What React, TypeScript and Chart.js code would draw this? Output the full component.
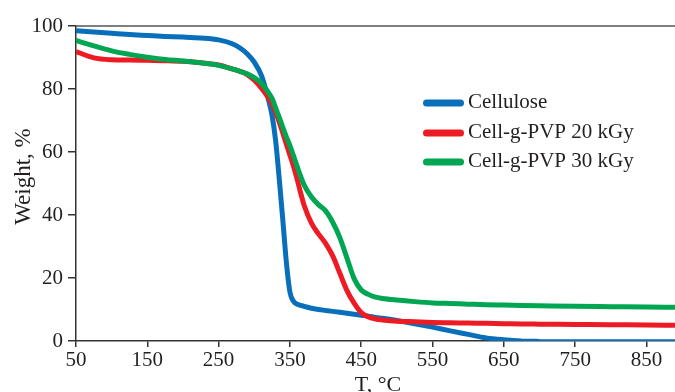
import React, { useEffect, useRef } from "react";
import { Chart, registerables } from "chart.js";

Chart.register(...registerables);

// Temperature (°C) sample points shared by all curves
const temperatures = [
  50, 75, 100, 125, 150, 175, 200, 225, 250, 270, 280, 290, 300, 310, 320, 325,
  330, 335, 340, 345, 350, 355, 360, 365, 370, 380, 390, 400, 410, 420, 430, 440,
  450, 460, 470, 480, 500, 525, 550, 575, 600, 625, 650, 675, 700, 750, 800, 850, 890,
];

// Weight (%) per series
const cellulose = [
  98.5, 98.1, 97.7, 97.3, 97.0, 96.7, 96.5, 96.2, 95.6, 94.3, 93.0, 91.2, 88.5, 84.3, 76.5, 71.5,
  63.5, 51.5, 38.5, 25.0, 15.5, 12.6, 11.7, 11.3, 11.0, 10.4, 10.0, 9.7, 9.4, 9.1, 8.8, 8.5,
  8.2, 7.9, 7.5, 7.2, 6.5, 5.5, 4.4, 3.2, 2.1, 1.0, 0.4, 0.0, -0.15, -0.2, -0.2, -0.2, -0.2,
];
const pvp20 = [
  91.9, 89.9, 89.3, 89.2, 89.1, 89.0, 88.8, 88.3, 87.6, 86.3, 85.6, 84.6, 82.8, 80.3, 77.2, 75.3,
  72.5, 69.5, 66.0, 62.5, 59.0, 55.5, 51.5, 47.0, 43.0, 37.5, 34.0, 31.0, 27.0, 21.5, 16.0, 12.0,
  9.0, 7.6, 7.0, 6.7, 6.3, 6.1, 5.9, 5.8, 5.7, 5.6, 5.5, 5.4, 5.35, 5.25, 5.15, 5.1, 5.0,
];
const pvp30 = [
  95.4, 93.7, 92.1, 91.0, 90.1, 89.4, 88.9, 88.3, 87.5, 86.3, 85.6, 84.8, 83.6, 81.8, 78.8, 77.0,
  74.0, 71.0, 67.8, 64.8, 62.0, 58.8, 55.5, 52.3, 49.5, 45.8, 43.3, 41.3, 37.7, 32.8, 26.3, 19.8,
  16.2, 14.8, 13.9, 13.5, 13.0, 12.5, 12.1, 11.9, 11.7, 11.5, 11.4, 11.3, 11.2, 11.0, 10.9, 10.8, 10.7,
];

const seriesLabels = ["Cellulose", "Cell-g-PVP 20 kGy", "Cell-g-PVP 30 kGy"];
const xTickValues = [50, 150, 250, 350, 450, 550, 650, 750, 850];
const yTickValues = [0, 20, 40, 60, 80, 100];
const xTitle = "T, °C";
const yTitle = "Weight, %";

const COLORS = ["#0A6FBA", "#ED1C24", "#00A651"];
const FONT = "'Liberation Serif', 'Times New Roman', serif";
const TEXT = "#231F20";
const AXIS = "#333333";

const frameAndLegend = {
  id: "frameAndLegend",
  afterDraw(chart: any) {
    const { ctx, chartArea } = chart;
    ctx.save();
    // top frame line
    ctx.strokeStyle = "#555555";
    ctx.lineWidth = 1.5;
    ctx.beginPath();
    ctx.moveTo(chartArea.left, chartArea.top);
    ctx.lineTo(chartArea.right, chartArea.top);
    ctx.stroke();

    // axis titles
    ctx.fillStyle = TEXT;
    ctx.font = `22px ${FONT}`;
    ctx.textAlign = "center";
    ctx.textBaseline = "alphabetic";
    ctx.fillText(xTitle, 378, 390.5);

    ctx.save();
    ctx.translate(29.5, 176.5);
    ctx.rotate(-Math.PI / 2);
    ctx.font = `23px ${FONT}`;
    ctx.textAlign = "center";
    ctx.textBaseline = "alphabetic";
    ctx.fillText(yTitle, 0, 0);
    ctx.restore();

    // legend
    const rows = [103, 133, 162];
    chart.data.datasets.forEach((ds: any, i: number) => {
      const y = rows[i];
      ctx.strokeStyle = ds.borderColor;
      ctx.lineWidth = 7;
      ctx.lineCap = "round";
      ctx.beginPath();
      ctx.moveTo(426.5, y);
      ctx.lineTo(460.5, y);
      ctx.stroke();
      ctx.fillStyle = TEXT;
      ctx.font = `21px ${FONT}`;
      ctx.textBaseline = "middle";
      ctx.textAlign = "left";
      ctx.fillText(ds.label, 468, y - 1);
    });
    ctx.restore();
  },
};

export default function App() {
  const ref = useRef<HTMLCanvasElement | null>(null);

  useEffect(() => {
    if (!ref.current) return;
    const series = [cellulose, pvp20, pvp30];
    const chart = new Chart(ref.current, {
      type: "line",
      data: {
        datasets: series.map((vals, i) => ({
          label: seriesLabels[i],
          data: temperatures.map((t, j) => ({ x: t, y: vals[j] })),
          borderColor: COLORS[i],
          backgroundColor: COLORS[i],
          borderWidth: 5,
          pointRadius: 0,
          cubicInterpolationMode: "monotone" as const,
          fill: false,
          order: 3 - i,
        })),
      },
      options: {
        animation: false,
        responsive: false,
        layout: { padding: { top: 26, right: 0, left: 0, bottom: 0 } },
        plugins: { legend: { display: false }, tooltip: { enabled: false } },
        scales: {
          x: {
            type: "linear",
            min: 50,
            max: 890,
            afterBuildTicks: (s: any) => {
              s.ticks = xTickValues.map((v) => ({ value: v }));
            },
            afterFit: (s: any) => {
              s.height = 51;
            },
            ticks: {
              font: { family: FONT, size: 21 },
              color: TEXT,
              padding: 1,
              maxRotation: 0,
              autoSkip: false,
            },
            grid: {
              display: true,
              drawOnChartArea: false,
              drawTicks: true,
              tickLength: 6,
              color: AXIS,
              lineWidth: 1.5,
            },
            border: { display: true, color: AXIS, width: 1.5 },
            title: { display: false },
          },
          y: {
            type: "linear",
            min: 0,
            max: 100,
            afterBuildTicks: (s: any) => {
              s.ticks = yTickValues.map((v) => ({ value: v }));
            },
            afterFit: (s: any) => {
              s.width = 76;
            },
            ticks: {
              font: { family: FONT, size: 21 },
              color: TEXT,
              padding: 5,
            },
            grid: {
              display: true,
              drawOnChartArea: false,
              drawTicks: true,
              tickLength: 8,
              color: AXIS,
              lineWidth: 1.5,
            },
            border: { display: true, color: AXIS, width: 1.5 },
            title: { display: false },
          },
        },
      },
      plugins: [frameAndLegend],
    });
    return () => chart.destroy();
  }, []);

  return (
    <div style={{ position: "absolute", left: 0, top: 0, width: 675, height: 392, background: "#fff" }}>
      <canvas ref={ref} width={675} height={392} />
    </div>
  );
}
